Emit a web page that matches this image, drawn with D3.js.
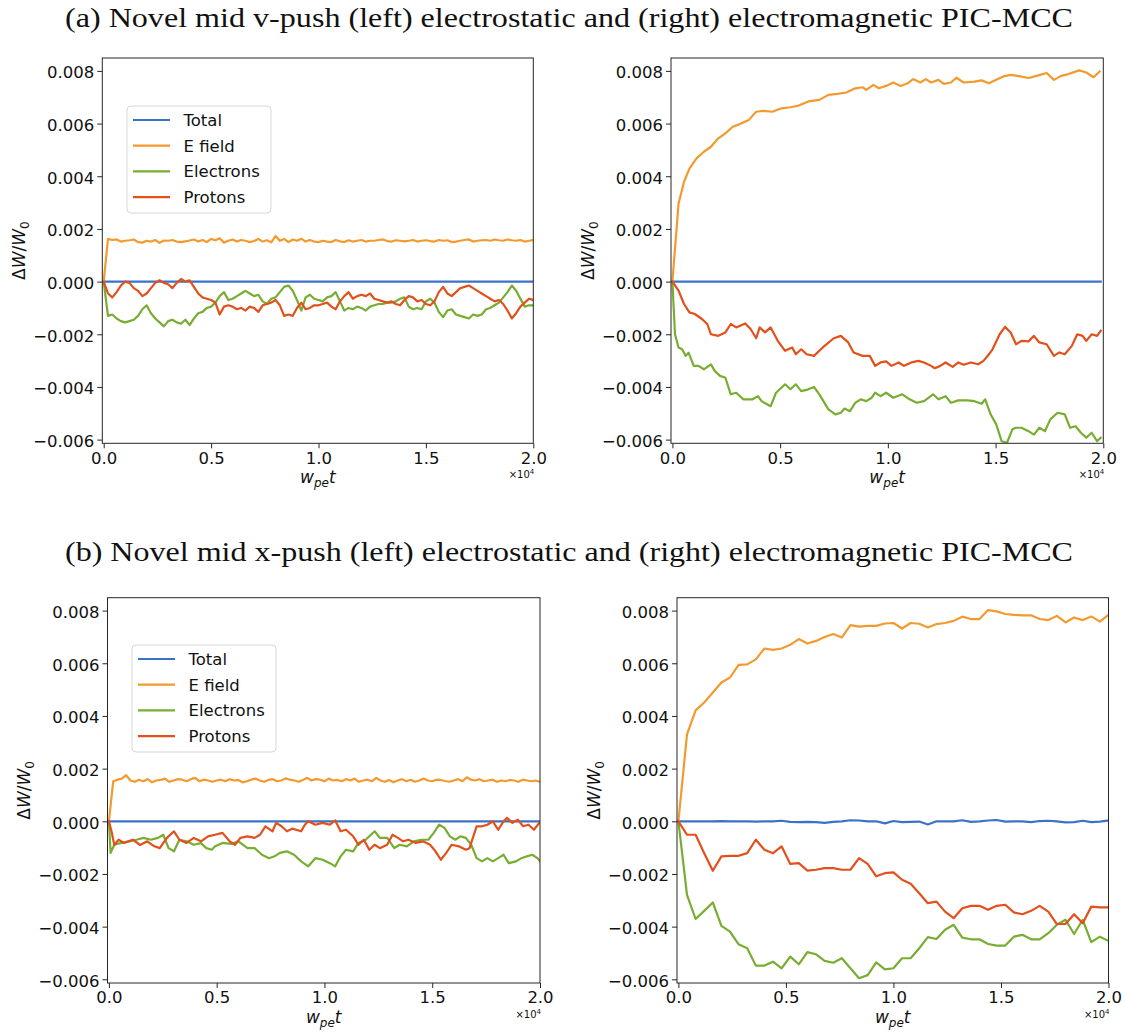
<!DOCTYPE html>
<html>
<head>
<meta charset="utf-8">
<script src="https://cdn.jsdelivr.net/npm/d3@7"></script>
<style>
  body { margin: 0; background: #fff; }
  svg { display: block; }
</style>
</head>
<body>
<div id="svgDiv"></div>
<script>
// all energy values are in units of 1e-3 (dW/W0 x 1000), time in w_pe t

// series names + colours (legend order)
var seriesNames = ["Total", "E field", "Electrons", "Protons"];
var seriesColors = ["#3a72c8", "#f39a2e", "#78ad32", "#e2501c"];

var yTicks = [-6, -4, -2, 0, 2, 4, 6, 8];
var xTicks = [0, 5000, 10000, 15000, 20000];
var xTickLabels = ["0.0", "0.5", "1.0", "1.5", "2.0"];

var titleA = "(a) Novel mid v-push (left) electrostatic and (right) electromagnetic PIC-MCC";
var titleB = "(b) Novel mid x-push (left) electrostatic and (right) electromagnetic PIC-MCC";

// (a) left: electrostatic, sampled every 200
var aLeftTotal = [[0, 0], [20000, 0]];
var aLeftE = [
  0, 1.62, 1.58, 1.60, 1.52, 1.55, 1.57, 1.60, 1.50, 1.48,
  1.55, 1.52, 1.58, 1.47, 1.56, 1.55, 1.58, 1.52, 1.50, 1.53,
  1.56, 1.60, 1.52, 1.58, 1.50, 1.62, 1.57, 1.65, 1.48, 1.55,
  1.60, 1.52, 1.58, 1.55, 1.50, 1.54, 1.62, 1.52, 1.57, 1.49,
  1.73, 1.55, 1.62, 1.50, 1.60, 1.55, 1.63, 1.52, 1.58, 1.52,
  1.50, 1.55, 1.52, 1.50, 1.58, 1.53, 1.50, 1.57, 1.52, 1.55,
  1.58, 1.52, 1.55, 1.55, 1.58, 1.60, 1.54, 1.52, 1.57, 1.55,
  1.53, 1.55, 1.58, 1.52, 1.55, 1.57, 1.54, 1.52, 1.58, 1.55,
  1.57, 1.50, 1.52, 1.55, 1.58, 1.60, 1.52, 1.55, 1.57, 1.58,
  1.55, 1.60, 1.57, 1.55, 1.60, 1.57, 1.55, 1.58, 1.52, 1.55,
  1.58];
var aLeftElec = [
  0, -1.30, -1.25, -1.40, -1.50, -1.55, -1.50, -1.45, -1.30, -1.05,
  -0.90, -1.20, -1.40, -1.55, -1.70, -1.50, -1.45, -1.55, -1.60, -1.45,
  -1.65, -1.40, -1.20, -1.15, -1.00, -0.95, -0.80, -0.55, -0.40, -0.70,
  -0.65, -0.55, -0.45, -0.35, -0.45, -0.55, -0.50, -0.75, -0.85, -0.65,
  -0.60, -0.40, -0.20, -0.15, -0.35, -0.70, -1.10, -0.60, -0.50, -0.65,
  -0.70, -0.75, -0.60, -0.55, -0.40, -0.75, -1.10, -1.00, -1.05, -0.95,
  -1.00, -1.10, -0.95, -0.90, -0.85, -0.85, -0.80, -0.80, -0.75, -0.65,
  -0.60, -0.95, -1.05, -1.00, -1.05, -0.75, -0.65, -0.80, -1.15, -1.35,
  -1.10, -1.05, -1.25, -1.30, -1.35, -1.40, -1.25, -1.30, -1.25, -1.05,
  -1.00, -0.90, -0.80, -0.60, -0.40, -0.15, -0.35, -0.65, -0.95, -0.90,
  -0.90];
var aLeftProt = [
  0, -0.45, -0.60, -0.40, -0.15, 0.00, -0.05, -0.25, -0.35, -0.55,
  -0.45, -0.25, -0.05, 0.05, -0.05, -0.10, -0.25, -0.05, 0.10, 0.00,
  0.05, -0.20, -0.45, -0.60, -0.65, -0.70, -0.80, -1.25, -0.95, -0.90,
  -0.95, -1.05, -1.00, -1.10, -0.95, -1.00, -1.15, -0.90, -0.85, -0.80,
  -0.70, -0.90, -1.30, -1.25, -1.30, -1.00, -0.80, -1.05, -1.00, -0.90,
  -0.90, -0.85, -0.80, -0.95, -1.05, -0.75, -0.55, -0.40, -0.65, -0.55,
  -0.50, -0.55, -0.45, -0.65, -0.70, -0.75, -0.80, -0.75, -0.85, -0.90,
  -0.70, -0.55, -0.60, -0.75, -0.70, -0.85, -0.90, -0.75, -0.40, -0.20,
  -0.45, -0.55, -0.40, -0.25, -0.20, -0.15, -0.25, -0.35, -0.45, -0.55,
  -0.65, -0.75, -0.70, -0.85, -1.10, -1.40, -1.20, -0.95, -0.80, -0.65,
  -0.70];

// (a) right: electromagnetic, [t, value] pairs
var aRightTotal = [[0, 0], [19880, 0]];
var aRightE = [[0,0],[285,2.96],[540,3.79],[790,4.29],[1120,4.68],[1460,4.93],[1790,5.12],[2130,5.44],[2460,5.63],[2800,5.88],[3130,5.98],[3550,6.14],[3890,6.45],[4220,6.48],[4640,6.45],[5060,6.58],[5480,6.62],[5810,6.67],[6310,6.84],[6820,6.90],[7240,7.09],[7650,7.13],[8070,7.18],[8490,7.34],[8830,7.38],[9000,7.28],[9330,7.47],[9580,7.34],[9920,7.43],[10250,7.56],[10590,7.43],[10920,7.53],[11170,7.69],[11510,7.56],[11760,7.69],[12010,7.56],[12350,7.66],[12600,7.51],[12930,7.56],[13180,7.74],[13520,7.56],[14020,7.59],[14350,7.64],[14690,7.53],[15030,7.66],[15360,7.79],[15700,7.85],[16030,7.81],[16530,7.73],[17030,7.84],[17370,7.92],[17710,7.66],[18040,7.81],[18380,7.88],[18880,8.02],[19210,7.94],[19550,7.76],[19830,7.98]];
var aRightElec = [[0,0],[120,-2.00],[285,-2.50],[450,-2.57],[620,-2.82],[750,-2.70],[990,-3.20],[1210,-3.20],[1460,-3.33],[1790,-3.14],[1960,-3.39],[2210,-3.58],[2460,-3.65],[2710,-4.28],[2960,-4.22],[3300,-4.47],[3720,-4.47],[3970,-4.35],[4140,-4.54],[4560,-4.73],[4810,-4.22],[5230,-3.90],[5480,-4.09],[5730,-3.90],[5980,-4.16],[6310,-4.09],[6570,-4.00],[6820,-4.28],[7240,-4.85],[7570,-5.04],[7820,-4.98],[7990,-4.82],[8240,-4.92],[8490,-4.60],[8740,-4.47],[9000,-4.54],[9250,-4.41],[9410,-4.22],[9660,-4.35],[9920,-4.22],[10250,-4.41],[10670,-4.28],[11010,-4.47],[11340,-4.60],[11680,-4.54],[12100,-4.28],[12350,-4.47],[12680,-4.35],[12930,-4.60],[13270,-4.51],[13690,-4.51],[14020,-4.54],[14350,-4.64],[14520,-4.47],[14770,-5.04],[15030,-5.42],[15280,-6.06],[15530,-6.12],[15780,-5.61],[15950,-5.55],[16200,-5.55],[16530,-5.68],[16780,-5.81],[17030,-5.55],[17290,-5.68],[17540,-5.23],[17880,-4.98],[18210,-5.04],[18460,-5.55],[18710,-5.49],[18960,-5.74],[19210,-5.93],[19460,-5.74],[19710,-6.06],[19880,-5.93]];
var aRightProt = [[0,0],[285,-0.34],[540,-0.85],[790,-1.17],[1040,-1.23],[1370,-1.42],[1620,-1.61],[1790,-2.00],[2130,-2.06],[2460,-1.93],[2710,-1.61],[2960,-1.74],[3380,-1.59],[3630,-1.80],[3890,-2.15],[4050,-1.74],[4300,-1.93],[4560,-1.74],[4890,-2.25],[5230,-2.63],[5560,-2.50],[5730,-2.76],[5980,-2.57],[6230,-2.76],[6570,-2.82],[6980,-2.50],[7490,-2.15],[7820,-2.06],[8160,-2.31],[8410,-2.69],[8830,-2.82],[9160,-2.82],[9410,-3.20],[9660,-3.07],[9920,-3.03],[10170,-3.20],[10500,-3.07],[10750,-3.20],[11090,-3.07],[11420,-3.01],[11680,-3.07],[12010,-3.20],[12180,-3.29],[12430,-3.20],[12680,-3.07],[13010,-3.24],[13270,-3.07],[13520,-3.16],[13850,-3.07],[14190,-3.14],[14440,-3.01],[14690,-2.76],[14860,-2.57],[15190,-2.00],[15440,-1.72],[15700,-1.93],[15950,-2.38],[16200,-2.25],[16530,-2.27],[16780,-2.06],[17030,-2.31],[17370,-2.38],[17710,-2.82],[17960,-2.69],[18210,-2.76],[18540,-2.44],[18790,-2.00],[19040,-2.06],[19210,-2.25],[19460,-2.00],[19710,-2.06],[19880,-1.87]];

// (b) left: electrostatic
var bLeftTotal = [[0, 0], [20000, 0]];
var bLeftE = [
  0, 1.52, 1.58, 1.62, 1.75, 1.55, 1.50, 1.58, 1.52, 1.60,
  1.48, 1.55, 1.57, 1.62, 1.50, 1.55, 1.60, 1.58, 1.52, 1.60,
  1.65, 1.52, 1.58, 1.55, 1.50, 1.55, 1.58, 1.52, 1.60, 1.55,
  1.57, 1.48, 1.52, 1.58, 1.62, 1.55, 1.50, 1.57, 1.60, 1.52,
  1.55, 1.63, 1.58, 1.55, 1.50, 1.57, 1.65, 1.55, 1.60, 1.58,
  1.52, 1.62, 1.55, 1.57, 1.52, 1.60, 1.55, 1.62, 1.50, 1.55,
  1.58, 1.52, 1.65, 1.55, 1.50, 1.57, 1.48, 1.55, 1.60, 1.52,
  1.58, 1.50, 1.55, 1.62, 1.55, 1.52, 1.58, 1.57, 1.53, 1.50,
  1.55, 1.60, 1.52, 1.67, 1.58, 1.55, 1.60, 1.52, 1.55, 1.58,
  1.50, 1.55, 1.52, 1.57, 1.55, 1.50, 1.58, 1.55, 1.52, 1.55,
  1.50];
var bLeftElec = [[0,0],[80,-1.20],[250,-0.89],[530,-0.83],[950,-0.76],[1280,-0.70],[1610,-0.63],[1940,-0.70],[2280,-0.63],[2520,-0.51],[2770,-1.02],[3020,-1.14],[3270,-0.70],[3600,-0.76],[3940,-0.89],[4270,-0.83],[4520,-1.02],[4770,-1.08],[4930,-0.95],[5270,-0.82],[5680,-0.86],[6010,-0.76],[6430,-1.02],[6760,-1.02],[7100,-1.27],[7430,-1.40],[7680,-1.33],[7930,-1.20],[8260,-1.14],[8590,-1.27],[8920,-1.52],[9250,-1.71],[9580,-1.40],[9920,-1.46],[10250,-1.59],[10500,-1.71],[10750,-1.33],[11000,-1.08],[11330,-1.14],[11580,-0.82],[11910,-0.70],[12330,-0.38],[12570,-0.63],[12910,-0.63],[13240,-1.02],[13490,-0.89],[13820,-0.95],[14150,-0.76],[14490,-0.70],[14820,-0.70],[15070,-0.44],[15320,-0.13],[15570,-0.25],[15820,-0.57],[16070,-0.70],[16310,-0.57],[16560,-0.63],[16810,-0.89],[17060,-1.40],[17310,-1.52],[17560,-1.40],[17810,-1.52],[18060,-1.40],[18310,-1.27],[18550,-1.59],[18890,-1.52],[19140,-1.40],[19390,-1.33],[19640,-1.27],[19880,-1.40],[20000,-1.52]];
var bLeftProt = [[0,0],[120,-0.38],[250,-0.90],[450,-0.70],[700,-0.82],[1110,-0.70],[1450,-0.90],[1780,-0.76],[2110,-0.95],[2360,-1.02],[2690,-0.63],[3020,-0.38],[3270,-0.70],[3600,-0.82],[3940,-0.63],[4270,-0.76],[4600,-0.57],[4930,-0.51],[5270,-0.44],[5600,-0.76],[5850,-0.89],[6100,-0.63],[6430,-0.57],[6760,-0.63],[7010,-0.51],[7260,-0.19],[7590,-0.38],[7760,-0.06],[8010,-0.19],[8260,-0.38],[8500,-0.28],[8920,-0.38],[9090,-0.13],[9250,0.00],[9580,-0.13],[9920,-0.06],[10250,-0.13],[10500,0.03],[10750,-0.38],[11000,-0.32],[11330,-0.57],[11580,-0.89],[11830,-0.70],[12080,-1.08],[12330,-0.89],[12570,-1.02],[12910,-0.89],[13160,-0.51],[13410,-0.63],[13650,-0.76],[13900,-0.70],[14240,-0.82],[14570,-0.76],[14900,-0.89],[15150,-1.14],[15400,-1.46],[15650,-1.20],[15900,-0.89],[16230,-0.95],[16560,-1.08],[16730,-1.02],[17060,-0.19],[17310,-0.19],[17560,-0.13],[17810,0.00],[18060,-0.32],[18310,0.00],[18470,0.13],[18720,-0.06],[18970,0.06],[19220,-0.19],[19470,-0.13],[19720,-0.32],[19970,-0.06]];

// (b) right: electromagnetic, sampled every 400
var bRightTotal = [
  0, 0, 0, 0, 0, 0.01, 0, 0, 0, -0.01,
  0, 0, 0.02, -0.02, -0.03, -0.02, -0.03, -0.06, -0.02, 0,
  0.04, 0.03, 0, 0, -0.08, 0.01, -0.03, -0.02, -0.01, -0.12,
  0, 0, 0, 0.04, -0.02, 0, 0.03, 0.05, -0.01, 0,
  0, -0.03, 0.01, 0.02, 0, -0.04, -0.03, 0.02, -0.03, -0.01,
  0.03];
var bRightE = [
  0, 3.30, 4.21, 4.51, 4.89, 5.27, 5.46, 5.94, 5.96, 6.15,
  6.56, 6.51, 6.56, 6.70, 6.92, 6.75, 6.85, 7.00, 7.11, 6.98,
  7.45, 7.39, 7.42, 7.42, 7.51, 7.53, 7.32, 7.53, 7.50, 7.36,
  7.49, 7.53, 7.61, 7.77, 7.68, 7.68, 8.02, 7.97, 7.87, 7.84,
  7.82, 7.82, 7.68, 7.64, 7.80, 7.55, 7.74, 7.64, 7.78, 7.58,
  7.84];
var bRightElec = [
  0, -2.79, -3.71, -3.40, -3.08, -3.97, -4.19, -4.67, -4.82, -5.48,
  -5.48, -5.33, -5.58, -5.14, -5.43, -4.97, -5.05, -5.30, -5.37, -5.20,
  -5.58, -5.96, -5.84, -5.36, -5.62, -5.58, -5.20, -5.20, -4.82, -4.40,
  -4.47, -4.12, -3.93, -4.42, -4.48, -4.48, -4.66, -4.72, -4.72, -4.38,
  -4.31, -4.48, -4.48, -4.25, -3.93, -3.74, -4.28, -3.74, -4.59, -4.38,
  -4.54];
var bRightProt = [
  0, -0.51, -0.51, -1.21, -1.88, -1.33, -1.31, -1.31, -1.21, -0.70,
  -1.08, -1.21, -0.95, -1.62, -1.59, -1.87, -1.84, -1.78, -1.78, -1.84,
  -1.84, -1.40, -1.62, -2.09, -1.97, -1.94, -2.22, -2.37, -2.73, -3.11,
  -3.05, -3.43, -3.68, -3.30, -3.21, -3.21, -3.36, -3.21, -3.17, -3.46,
  -3.53, -3.40, -3.21, -3.43, -3.90, -3.90, -3.53, -3.87, -3.24, -3.27,
  -3.27];

var svgWidth = 1125, svgHeight = 1034;
var tickFont = "'DejaVu Sans', Verdana, sans-serif";

var svg = d3.select("#svgDiv")
    .append("svg")
    .attr("width", svgWidth)
    .attr("height", svgHeight)
    .attr("id", "drawnSvg");

svg.append("rect").attr("width", svgWidth).attr("height", svgHeight).attr("fill", "#fff");

// uniform samples -> [t, v] pairs
function sampled(values, step){
    return values.map(function(v, i){ return [i * step, v]; });
}

function fmtY(v){
    var s = (v / 1000).toFixed(3);
    return s.replace("-", "\u2212");
}

// draws one subplot
function drawPanel(id, box, series, legendPos){
    var x = d3.scaleLinear().domain([-65, 20000]).range([box.x0, box.x1]);
    var y = d3.scaleLinear().domain([-6.14, 8.49]).range([box.y1, box.y0]);

    svg.append("clipPath").attr("id", "clip" + id)
        .append("rect")
        .attr("x", box.x0).attr("y", box.y0)
        .attr("width", box.x1 - box.x0).attr("height", box.y1 - box.y0);

    var line = d3.line()
        .x(function(d){ return x(d[0]); })
        .y(function(d){ return y(d[1]); });

    var lines = svg.append("g").attr("clip-path", "url(#clip" + id + ")");
    series.forEach(function(s, i){
        lines.append("path")
            .attr("d", line(s))
            .attr("fill", "none")
            .attr("stroke", seriesColors[i])
            .attr("stroke-width", 2.2)
            .attr("stroke-linejoin", "round")
            .attr("stroke-linecap", "square");
    });

    // axes
    var yAxis = d3.axisLeft(y).tickValues(yTicks).tickFormat(fmtY)
        .tickSize(5).tickPadding(3).tickSizeOuter(0);
    var gy = svg.append("g").attr("transform", "translate(" + box.x0 + ",0)").call(yAxis);

    var xAxis = d3.axisBottom(x).tickValues(xTicks)
        .tickFormat(function(d, i){ return xTickLabels[i]; })
        .tickSize(5).tickPadding(3.5).tickSizeOuter(0);
    var gx = svg.append("g").attr("transform", "translate(0," + box.y1 + ")").call(xAxis);

    [gx, gy].forEach(function(g){
        g.select(".domain").remove();
        g.selectAll(".tick line").attr("stroke", "#262626").attr("stroke-width", 1);
        g.selectAll(".tick text")
            .attr("fill", "#111")
            .style("font-family", tickFont)
            .style("font-size", "16.5px");
    });
    gy.selectAll(".tick text").attr("dy", "0.42em");

    // frame
    svg.append("rect")
        .attr("x", box.x0).attr("y", box.y0)
        .attr("width", box.x1 - box.x0).attr("height", box.y1 - box.y0)
        .attr("fill", "none")
        .attr("stroke", "#262626")
        .attr("stroke-width", 1);

    // x label  w_pe t
    var xl = svg.append("text")
        .attr("x", (box.x0 + box.x1) / 2)
        .attr("y", box.y1 + 40)
        .attr("text-anchor", "middle")
        .attr("fill", "#111")
        .style("font-family", tickFont)
        .style("font-size", "17px")
        .style("font-style", "italic");
    xl.append("tspan").text("w");
    xl.append("tspan").attr("dy", 4).style("font-size", "12px").text("pe");
    xl.append("tspan").attr("dy", -4).text("t");

    // y label  dW/W0
    var yl = svg.append("text")
        .attr("transform", "translate(" + (box.x0 - 77.5) + "," + ((box.y0 + box.y1) / 2) + ") rotate(-90)")
        .attr("text-anchor", "middle")
        .attr("fill", "#111")
        .style("font-family", tickFont)
        .style("font-size", "17px");
    yl.append("tspan").text("\u0394");
    yl.append("tspan").style("font-style", "italic").text("W");
    yl.append("tspan").text("/");
    yl.append("tspan").style("font-style", "italic").text("W");
    yl.append("tspan").attr("dy", 4).style("font-size", "12px").text("0");

    // offset text x10^4
    var off = svg.append("text")
        .attr("x", box.x1 + 1)
        .attr("y", box.y1 + 35)
        .attr("text-anchor", "end")
        .attr("fill", "#111")
        .style("font-family", tickFont)
        .style("font-size", "10px");
    off.append("tspan").text("\u00d710");
    off.append("tspan").attr("dy", -4).style("font-size", "7px").text("4");

    if(legendPos){
        var lg = svg.append("g").attr("transform", "translate(" + legendPos[0] + "," + legendPos[1] + ")");
        lg.append("rect")
            .attr("width", 144).attr("height", 107)
            .attr("rx", 4).attr("ry", 4)
            .attr("fill", "#fff").attr("fill-opacity", 0.8)
            .attr("stroke", "#d6d6d6").attr("stroke-width", 1);
        seriesNames.forEach(function(name, i){
            var ry = 14 + i * 25.7;
            lg.append("line")
                .attr("x1", 6).attr("x2", 43)
                .attr("y1", ry).attr("y2", ry)
                .attr("stroke", seriesColors[i])
                .attr("stroke-width", 2.2);
            lg.append("text")
                .attr("x", 56.5).attr("y", ry + 6)
                .attr("fill", "#111")
                .style("font-family", tickFont)
                .style("font-size", "16.5px")
                .text(name);
        });
    }
}

// titles
[[titleA, 27], [titleB, 561]].forEach(function(t){
    svg.append("text")
        .attr("x", 65).attr("y", t[1])
        .attr("textLength", 1008)
        .attr("lengthAdjust", "spacingAndGlyphs")
        .attr("fill", "#111")
        .style("font-family", "'Liberation Serif', 'DejaVu Serif', serif")
        .style("font-size", "28px")
        .text(t[0]);
});

drawPanel("aL", {x0: 102.3, x1: 533.3, y0: 58, y1: 443.3},
    [aLeftTotal, sampled(aLeftE, 200), sampled(aLeftElec, 200), sampled(aLeftProt, 200)], [127, 106]);
drawPanel("aR", {x0: 671, x1: 1103.3, y0: 58, y1: 443.3},
    [aRightTotal, aRightE, aRightElec, aRightProt], null);
drawPanel("bL", {x0: 107.5, x1: 540, y0: 597.7, y1: 983},
    [bLeftTotal, sampled(bLeftE, 200), bLeftElec, bLeftProt], [132, 645]);
drawPanel("bR", {x0: 677, x1: 1108.5, y0: 597.7, y1: 983},
    [sampled(bRightTotal, 400), sampled(bRightE, 400), sampled(bRightElec, 400), sampled(bRightProt, 400)], null);
</script>
</body>
</html>
